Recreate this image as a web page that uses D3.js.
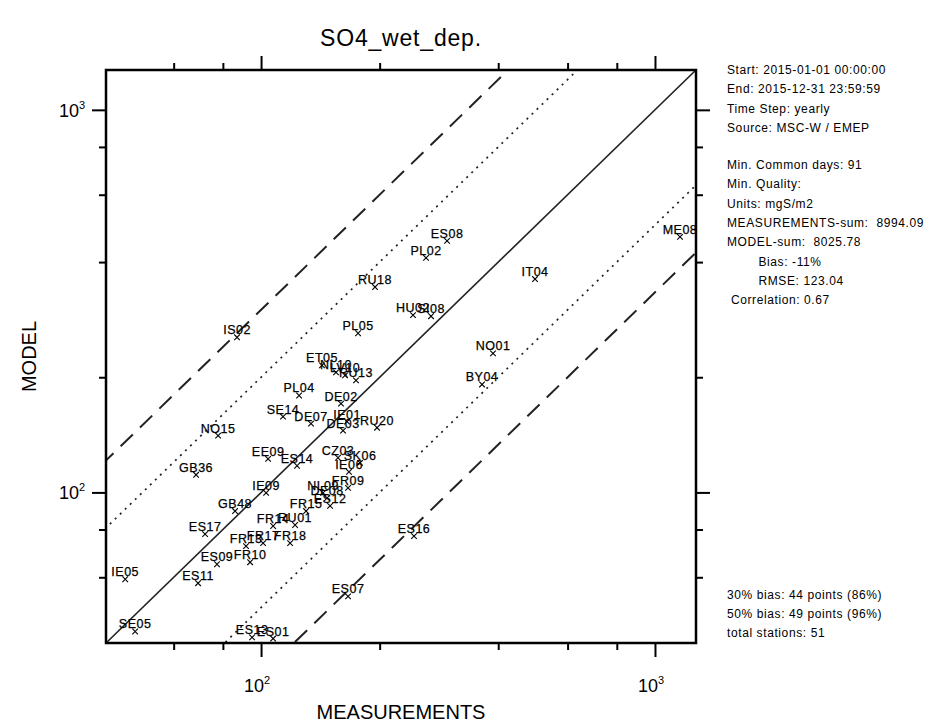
<!DOCTYPE html>
<html lang="en">
<head>
<meta charset="UTF-8">
<title>SO4_wet_dep.</title>
<script src="https://d3js.org/d3.v7.min.js"></script>
<style>
  body { margin: 0; background: #fff; font-family: "Liberation Sans", Arial, Helvetica, sans-serif; }
  svg { display: block; }
  .lbl { font-size: 12.5px; letter-spacing: 0.5px; stroke: #000; stroke-width: 0.25px; }
  .info { font-size: 12px; letter-spacing: 0.6px; white-space: pre; }
</style>
</head>
<body>
<svg width="941" height="724"></svg>
<script>
// station codes with measured (x) and modelled (y) yearly SO4 wet deposition, mgS/m2
const stations = ["ES08","PL02","ME08","IT04","RU18","HU02","SI08","IS02","PL05","NO01",
  "BY04","ET05","NL10","RU13","LV10","PL04","DE02","SE14","DE07","IE01","DE03","RU20","NO15",
  "EE09","ES14","CZ03","SK06","IE06","GB36","IE09","FR09","NL09","DE08","ES12","GB48","FR15",
  "FR14","RU01","ES17","FR13","FR17","FR18","ES09","FR10","IE05","ES11","ES16","ES07","SE05",
  "ES13","ES01"];
const measured = [296.6,262.3,1157.5,496.0,194.7,243.1,270.1,86.9,176.3,388.0,
  363.9,142.8,155.0,174.2,163.4,124.9,159.6,113.7,133.9,165.3,161.5,197.0,77.8,
  104.2,123.4,156.8,178.4,167.2,68.4,103.0,166.3,143.7,147.1,149.7,85.9,130.1,
  107.3,122.0,72.1,91.6,101.2,118.5,77.3,93.8,45.2,69.2,244.5,166.3,47.9,
  94.9,107.3];
const modelled = [454.5,410.1,465.6,361.2,344.2,290.6,288.8,254.4,260.6,230.9,
  191.5,214.8,205.9,196.2,202.2,179.2,170.7,157.8,151.3,153.1,145.0,147.6,140.7,
  122.4,117.4,123.2,119.5,113.2,111.2,99.7,102.8,99.7,96.7,92.2,89.4,89.4,
  81.7,82.2,77.8,72.4,73.7,73.7,64.9,65.7,59.3,57.9,76.9,53.5,43.3,
  41.8,41.5];

const majorTicks = [100, 1000];
const minorTicks = [60, 80, 200, 400, 600, 800];
const domain = [40.4, 1271];

const infoTop = [
  "Start: 2015-01-01 00:00:00",
  "End: 2015-12-31 23:59:59",
  "Time Step: yearly",
  "Source: MSC-W / EMEP"
];
const infoStats = [
  "Min. Common days: 91",
  "Min. Quality:",
  "Units: mgS/m2",
  "MEASUREMENTS-sum:  8994.09",
  "MODEL-sum:  8025.78",
  "        Bias: -11%",
  "        RMSE: 123.04",
  " Correlation: 0.67"
];
const infoBottom = [
  "30% bias: 44 points (86%)",
  "50% bias: 49 points (96%)",
  "total stations: 51"
];

const svg = d3.select("svg");
const pLeft = 106, pRight = 696, pTop = 70, pBottom = 643;

const x = d3.scaleLog().domain(domain).range([pLeft, pRight]);
const y = d3.scaleLog().domain(domain).range([pBottom, pTop]);

svg.append("clipPath").attr("id", "plot")
  .append("rect").attr("x", pLeft).attr("y", pTop)
  .attr("width", pRight - pLeft).attr("height", pBottom - pTop);

// reference lines 1:1, factor 2 (dotted), factor 3 (dashed)
const refs = [
  { k: 1, dash: null, w: 1.6 },
  { k: 2, dash: "2,5", w: 1.7 },
  { k: 0.5, dash: "2,5", w: 1.7 },
  { k: 3, dash: "17,10", w: 2 },
  { k: 1 / 3, dash: "17,10", w: 2 }
];
const line = d3.line().x(d => x(d[0])).y(d => y(d[1]));
svg.append("g").attr("clip-path", "url(#plot)")
  .selectAll("path").data(refs).enter().append("path")
  .attr("d", r => line([[domain[0] / 4, domain[0] / 4 * r.k], [domain[1] * 4, domain[1] * 4 * r.k]]))
  .attr("fill", "none")
  .attr("stroke", "#222")
  .attr("stroke-width", r => r.w)
  .attr("stroke-dasharray", r => r.dash);

// station markers and labels
const pts = stations.map((s, i) => ({ name: s, m: measured[i], v: modelled[i] }));
const node = svg.append("g").selectAll("g").data(pts).enter().append("g")
  .attr("transform", d => `translate(${x(d.m)},${y(d.v)})`);
node.append("path")
  .attr("d", d3.symbol(d3.symbolX, 22))
  .attr("fill", "none").attr("stroke", "#000").attr("stroke-width", 1.1);
node.append("text").attr("class", "lbl")
  .attr("text-anchor", "middle").attr("y", -3)
  .text(d => d.name);

// axes: ticks outward on all four sides
function ticks(axis, tr, vals, size) {
  const g = svg.append("g").attr("transform", tr)
    .call(axis.tickValues(vals).tickSize(size).tickFormat(""));
  g.select(".domain").remove();
  g.selectAll("line").attr("stroke", "#000").attr("stroke-width", 2);
}
ticks(d3.axisBottom(x), `translate(0,${pBottom})`, majorTicks, 14);
ticks(d3.axisBottom(x), `translate(0,${pBottom})`, minorTicks, 7);
ticks(d3.axisTop(x), `translate(0,${pTop})`, majorTicks, 14);
ticks(d3.axisTop(x), `translate(0,${pTop})`, minorTicks, 7);
ticks(d3.axisLeft(y), `translate(${pLeft},0)`, majorTicks, 14);
ticks(d3.axisLeft(y), `translate(${pLeft},0)`, minorTicks, 7);
ticks(d3.axisRight(y), `translate(${pRight},0)`, majorTicks, 14);
ticks(d3.axisRight(y), `translate(${pRight},0)`, minorTicks, 7);

svg.append("rect")
  .attr("x", pLeft).attr("y", pTop)
  .attr("width", pRight - pLeft).attr("height", pBottom - pTop)
  .attr("fill", "none").attr("stroke", "#000").attr("stroke-width", 2.5);

// tick labels 10^n
function powLabel(sel, v) {
  sel.text("10").append("tspan")
    .attr("dy", -8).attr("font-size", 11)
    .text(Math.round(Math.log10(v)));
}
svg.selectAll(".xt").data(majorTicks).enter().append("text")
  .attr("x", d => x(d) - 4).attr("y", 692)
  .attr("text-anchor", "middle").attr("font-size", 18)
  .each(function(d) { powLabel(d3.select(this), d); });
svg.selectAll(".yt").data(majorTicks).enter().append("text")
  .attr("x", 72).attr("y", d => y(d) + 7)
  .attr("text-anchor", "middle").attr("font-size", 18)
  .each(function(d) { powLabel(d3.select(this), d); });

// titles
svg.append("text").attr("x", (pLeft + pRight) / 2).attr("y", 46)
  .attr("text-anchor", "middle").attr("font-size", 23).attr("letter-spacing", 0.8)
  .text("SO4_wet_dep.");
svg.append("text").attr("x", (pLeft + pRight) / 2).attr("y", 719)
  .attr("text-anchor", "middle").attr("font-size", 20)
  .text("MEASUREMENTS");
svg.append("text")
  .attr("transform", `translate(36,${(pTop + pBottom) / 2}) rotate(-90)`)
  .attr("text-anchor", "middle").attr("font-size", 20)
  .text("MODEL");

// info panel on the right
function info(lines, y0, step) {
  svg.append("g").selectAll("text").data(lines).enter().append("text")
    .attr("class", "info")
    .attr("x", 727).attr("y", (d, i) => y0 + i * step)
    .text(d => d);
}
info(infoTop, 74, 19.3);
info(infoStats, 169, 19.3);
info(infoBottom, 599, 19);
</script>
</body>
</html>
